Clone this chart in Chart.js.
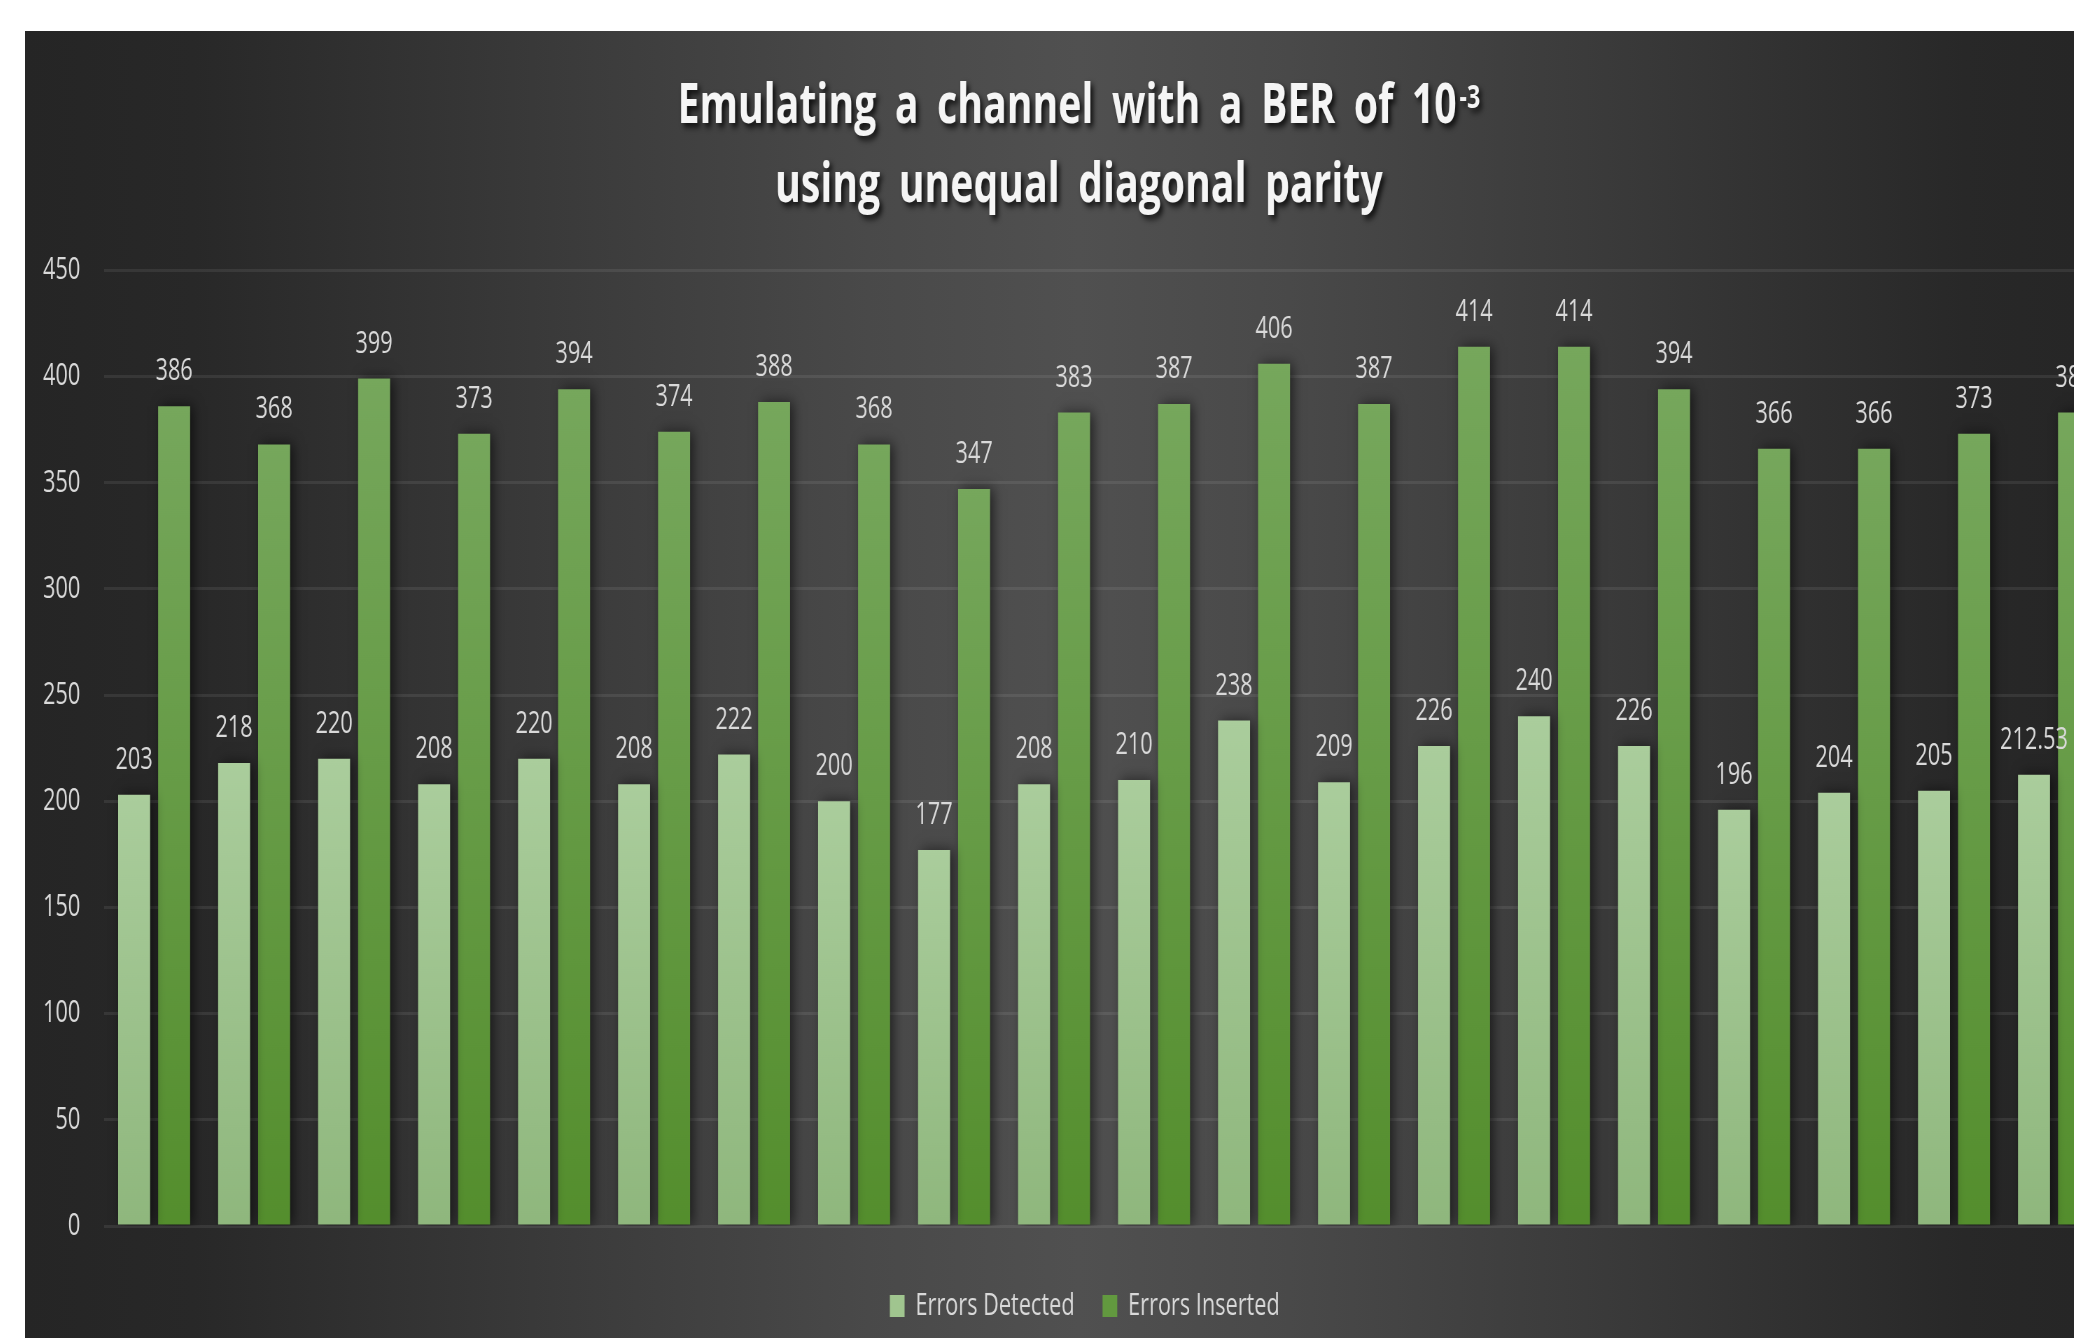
<!DOCTYPE html>
<html>
<head>
<meta charset="utf-8">
<script src="https://cdn.jsdelivr.net/npm/chart.js@4.4.1/dist/chart.umd.min.js"></script>
<style>
  html, body { margin: 0; padding: 0; background: #fff; width: 2074px; height: 1338px; overflow: hidden; }
  #panel {
    position: absolute; left: 25px; top: 31px; width: 2108px; height: 1307px;
    background: linear-gradient(to right, #252525 0%, #282828 8%, #3a3a3a 25%, #494949 40%, #505050 50%, #494949 60%, #3a3a3a 75%, #282828 92%, #252525 100%);
  }
  #chart { position: absolute; left: 0; top: 0; transform: scaleX(0.7); transform-origin: 0 0; }
</style>
</head>
<body>
<div id="panel"><canvas id="chart" width="3011" height="1307"></canvas></div>
<script>
const categories = ['1', '2', '3', '4', '5', '6', '7', '8', '9', '10',
                    '11', '12', '13', '14', '15', '16', '17', '18', '19', '20'];
const errorsDetected = [203, 218, 220, 208, 220, 208, 222, 200, 177, 208,
                        210, 238, 209, 226, 240, 226, 196, 204, 205, 212.53];
const errorsInserted = [386, 368, 399, 373, 394, 374, 388, 368, 347, 383,
                        387, 406, 387, 414, 414, 394, 366, 366, 373, 383];
const yTicks = [0, 50, 100, 150, 200, 250, 300, 350, 400, 450];
const titleLines = ['Emulating a channel with a BER of 10', 'using unequal diagonal parity'];
const titleSup = '-3';

const FONT = '"Open Sans", "DejaVu Sans", sans-serif';
const TEXT = '#d9d9d9';

// vertical gradient for each bar, from its top down to zero
function barFill(top, bottom) {
    return function(ctx) {
        const chart = ctx.chart;
        const y = chart.scales.y;
        if (ctx.type !== 'data' || !y || !chart.chartArea) return bottom;
        const g = chart.ctx.createLinearGradient(0, y.getPixelForValue(ctx.raw), 0, y.getPixelForValue(0));
        g.addColorStop(0, top);
        g.addColorStop(1, bottom);
        return g;
    };
}

const barShadow = {
    id: 'barShadow',
    beforeDatasetsDraw(chart) {
        const c = chart.ctx;
        c.save();
        c.shadowColor = 'rgba(0,0,0,0.55)';
        c.shadowBlur = 14;
        c.shadowOffsetX = 5;
        c.shadowOffsetY = 0;
    },
    afterDatasetsDraw(chart) {
        chart.ctx.restore();
    }
};

const valueLabels = {
    id: 'valueLabels',
    afterDatasetsDraw(chart) {
        const c = chart.ctx;
        c.save();
        c.shadowColor = 'transparent';
        c.font = '31px ' + FONT;
        c.fillStyle = TEXT;
        c.textAlign = 'center';
        c.textBaseline = 'alphabetic';
        chart.data.datasets.forEach((ds, i) => {
            chart.getDatasetMeta(i).data.forEach((bar, j) => {
                c.fillText(String(ds.data[j]), bar.x, bar.y - 26);
            });
        });
        c.restore();
    }
};

const shadowTitle = {
    id: 'shadowTitle',
    afterDraw(chart) {
        const c = chart.ctx;
        const cx = chart.width / 2;
        c.save();
        c.fillStyle = '#f5f5f5';
        c.shadowColor = 'rgba(0,0,0,0.8)';
        c.shadowBlur = 6;
        c.shadowOffsetX = 4;
        c.shadowOffsetY = 4;
        c.textBaseline = 'alphabetic';
        c.wordSpacing = '12px';
        c.font = 'bold 56px ' + FONT;
        const w1 = c.measureText(titleLines[0]).width;
        c.font = 'bold 33px ' + FONT;
        const w2 = c.measureText(titleSup).width;
        const x0 = cx - (w1 + w2 + 4) / 2;
        c.textAlign = 'left';
        c.font = 'bold 56px ' + FONT;
        c.fillText(titleLines[0], x0, 92);
        c.font = 'bold 33px ' + FONT;
        c.fillText(titleSup, x0 + w1 + 4, 77);
        c.font = 'bold 56px ' + FONT;
        c.textAlign = 'center';
        c.fillText(titleLines[1], cx, 171);
        c.restore();
    }
};

// the legend sits centred on the whole panel, not on the padded box
const legendShift = {
    id: 'legendShift',
    afterLayout(chart) {
        if (!chart.legend) return;
        chart.legend.left += 29;
        chart.legend.right += 29;
    }
};

new Chart(document.getElementById('chart'), {
    type: 'bar',
    data: {
        labels: categories,
        datasets: [{
            label: 'Errors Detected',
            data: errorsDetected,
            backgroundColor: barFill('#aacd9c', '#8fb77d'),
            categoryPercentage: 0.8,
            barPercentage: 0.8
        }, {
            label: 'Errors Inserted',
            data: errorsInserted,
            backgroundColor: barFill('#76a75c', '#548e2d'),
            categoryPercentage: 0.8,
            barPercentage: 0.8
        }]
    },
    options: {
        responsive: false,
        animation: false,
        layout: { padding: { top: 239.3, left: 0, right: 41, bottom: 6.4 } },
        plugins: {
            title: { display: false },
            tooltip: { enabled: false },
            legend: {
                position: 'bottom',
                labels: {
                    color: TEXT,
                    font: { family: FONT, size: 31 },
                    boxWidth: 21,
                    boxHeight: 22,
                    padding: 40,
                    generateLabels(chart) {
                        const fills = ['#a0c58f', '#62993f'];
                        return chart.data.datasets.map((ds, i) => ({
                            text: ds.label,
                            fillStyle: fills[i],
                            strokeStyle: fills[i],
                            lineWidth: 0,
                            fontColor: TEXT,
                            datasetIndex: i
                        }));
                    }
                }
            }
        },
        scales: {
            x: {
                ticks: { display: false },
                grid: { display: false },
                border: { display: false },
                afterFit(axis) { axis.height = 24.6; }
            },
            y: {
                min: 0,
                max: 450,
                afterBuildTicks(axis) { axis.ticks = yTicks.map(v => ({ value: v })); },
                afterFit(axis) { axis.width = 113; },
                ticks: { color: TEXT, font: { family: FONT, size: 31 }, padding: 34 },
                grid: { color: 'rgba(255,255,255,0.08)', lineWidth: 3, drawTicks: false },
                border: { display: false }
            }
        }
    },
    plugins: [barShadow, valueLabels, shadowTitle, legendShift]
});
</script>
</body>
</html>
